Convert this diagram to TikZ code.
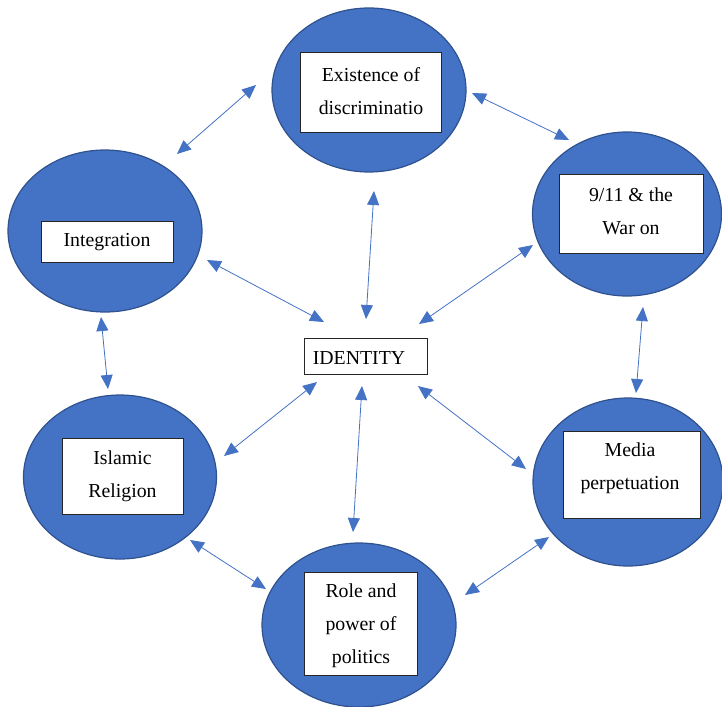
\documentclass[tikz,border=0pt]{standalone}
\usepackage{fontspec}
\setmainfont{Liberation Serif}
\usetikzlibrary{arrows.meta,shapes.geometric}

\definecolor{bubble}{HTML}{4472C4}
\definecolor{bubbleedge}{HTML}{2F528F}
\definecolor{linkblue}{HTML}{4472C4}

\tikzset{
  bubble/.style={ellipse, draw=bubbleedge, line width=1.2pt, fill=bubble,
                 inner sep=0pt},
  tag/.style={rectangle, draw=black!85, line width=1pt, fill=white,
              inner sep=0pt},
  caption/.style={font=\fontsize{19.8}{33}\selectfont, align=center,
                  inner sep=0pt, text=black},
  link/.style={draw=linkblue, line width=0.8pt,
               {Triangle[length=14pt,width=12pt]}-{Triangle[length=14pt,width=12pt]}},
}

\begin{document}
\begin{tikzpicture}[x=1pt,y=-1pt]
\useasboundingbox (0,0) rectangle (722,706);

% outer bubbles
\node[bubble, minimum width=194pt, minimum height=164pt] (eTop) at (369,90) {};
\node[bubble, minimum width=194pt, minimum height=162pt] (eInt) at (105,231) {};
\node[bubble, minimum width=189pt, minimum height=164pt] (eWar) at (627,214) {};
\node[bubble, minimum width=193pt, minimum height=164pt] (eIsl) at (120,477) {};
\node[bubble, minimum width=194pt, minimum height=164pt] (ePol) at (359,625) {};
\node[bubble, minimum width=190pt, minimum height=168pt] (eMed) at (628,482) {};

% white label boxes
\node[tag, minimum width=141pt, minimum height=79pt] (bTop) at (370.5,92.5) {};
\node[tag, minimum width=132pt, minimum height=41pt] (bInt) at (107,241.5) {};
\node[tag, minimum width=144pt, minimum height=79pt] (bWar) at (631,213.5) {};
\node[tag, minimum width=121pt, minimum height=76pt] (bIsl) at (122.5,476) {};
\node[tag, minimum width=113pt, minimum height=103pt] (bPol) at (360.5,623.5) {};
\node[tag, minimum width=137pt, minimum height=87pt] (bMed) at (631.5,474.5) {};
\node[tag, minimum width=123pt, minimum height=36pt] (bId) at (365.5,356) {};

% texts
\node[caption] (tTop) at (371,91) {Existence of\\discriminatio};
\node[caption] (tInt) at (107,242.5) {Integration};
\node[caption] (tWar) at (631,211.5) {9/11 \& the\\War on};
\node[caption] (tIsl) at (122.5,476) {Islamic\\Religion};
\node[caption] (tPol) at (361,626) {Role and\\power of\\politics};
\node[caption] (tMed) at (630,468.5) {Media\\perpetuation};
\node[caption] (tId) at (359,358.5) {IDENTITY};

% connector end points
\coordinate (c1a) at (256,85);   \coordinate (c1b) at (177,154);
\coordinate (c2a) at (472,93);   \coordinate (c2b) at (569,140);
\coordinate (c3a) at (374,191);  \coordinate (c3b) at (366,319);
\coordinate (c4a) at (207,260);  \coordinate (c4b) at (324,322);
\coordinate (c5a) at (533,245);  \coordinate (c5b) at (419,324);
\coordinate (c6a) at (101,317);  \coordinate (c6b) at (108,389);
\coordinate (c7a) at (643,307);  \coordinate (c7b) at (636,393);
\coordinate (c8a) at (317,382);  \coordinate (c8b) at (224,456);
\coordinate (c9a) at (362,386);  \coordinate (c9b) at (353,532);
\coordinate (c10a) at (418,386); \coordinate (c10b) at (526,469);
\coordinate (c11a) at (190,540); \coordinate (c11b) at (266,589);
\coordinate (c12a) at (465,595); \coordinate (c12b) at (549,537);

% double-headed connectors
\draw[link] (c1a) -- (c1b);
\draw[link] (c2a) -- (c2b);
\draw[link] (c3a) -- (c3b);
\draw[link] (c4a) -- (c4b);
\draw[link] (c5a) -- (c5b);
\draw[link] (c6a) -- (c6b);
\draw[link] (c7a) -- (c7b);
\draw[link] (c8a) -- (c8b);
\draw[link] (c9a) -- (c9b);
\draw[link] (c10a) -- (c10b);
\draw[link] (c11a) -- (c11b);
\draw[link] (c12a) -- (c12b);
\end{tikzpicture}
\end{document}
